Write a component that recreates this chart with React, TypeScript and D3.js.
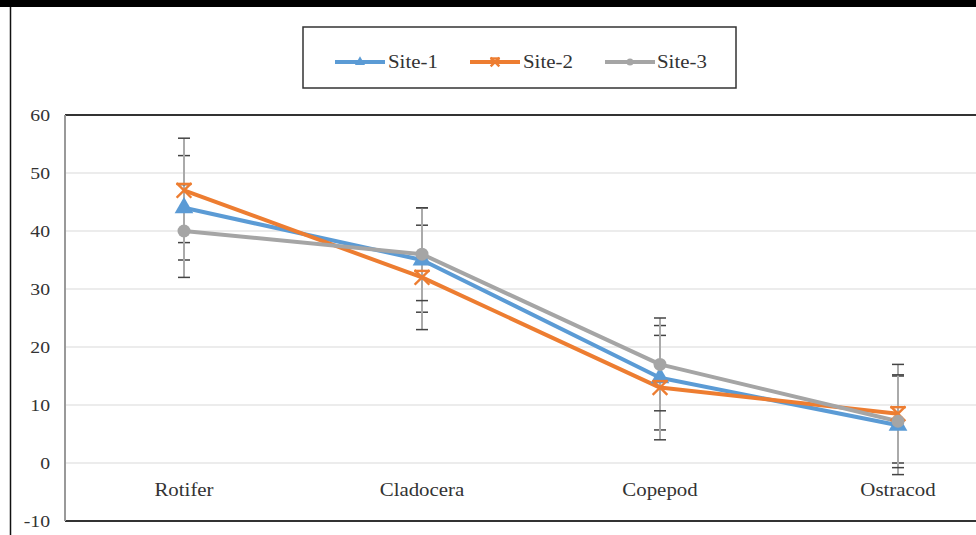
import * as d3 from 'd3'

// categories along the x axis
const CATEGORIES = ['Rotifer', 'Cladocera', 'Copepod', 'Ostracod']

// series values and error bar half-widths
const SITE1 = [44, 35, 14.7, 6.5]
const SITE1_ERR = [9, 9, 9, 8.5]
const SITE2 = [47, 32, 13, 8.5]
const SITE2_ERR = [9, 9, 9, 8.5]
const SITE3 = [40, 36, 17, 7.2]
const SITE3_ERR = [8, 8, 8, 8]

const Y_TICKS = [-10, 0, 10, 20, 30, 40, 50, 60]

const SERIES = [
  { name: 'Site-1', values: SITE1, err: SITE1_ERR, color: '#5b9bd5', marker: 'triangle' },
  { name: 'Site-2', values: SITE2, err: SITE2_ERR, color: '#ed7d31', marker: 'star' },
  { name: 'Site-3', values: SITE3, err: SITE3_ERR, color: '#a5a5a5', marker: 'circle' },
]

const W = 976
const H = 535
const FONT = 'Liberation Serif, DejaVu Serif, Times New Roman, serif'
const STRETCH = 1.16 // the source text is a bit wider than it is tall

function Label({ x, y, anchor, size, children }: { x: number; y: number; anchor: string; size: number; children: any }) {
  return (
    <text
      transform={`translate(${x},${y}) scale(${STRETCH},1)`}
      dy="0.35em"
      textAnchor={anchor}
      fontFamily={FONT}
      fontSize={size}
      fill="#333"
    >
      {children}
    </text>
  )
}

function Marker({ type, x, y, color, size }: { type: string; x: number; y: number; color: string; size: number }) {
  if (type === 'triangle') {
    const p = d3.symbol().type(d3.symbolTriangle).size(size * size * 0.9)()
    return <path d={p || ''} transform={`translate(${x},${y})`} fill={color} />
  }
  if (type === 'circle') {
    return <circle cx={x} cy={y} r={size / 2} fill={color} />
  }
  const s = size / 2
  return (
    <g stroke={color} strokeWidth={2.4} strokeLinecap="square">
      <line x1={x - s} y1={y - s} x2={x + s} y2={y + s} />
      <line x1={x - s} y1={y + s} x2={x + s} y2={y - s} />
      <line x1={x - s} y1={y - s} x2={x + s} y2={y - s} />
    </g>
  )
}

export default function App() {
  const x = d3.scalePoint<string>().domain(CATEGORIES).range([184, 898])
  const y = d3.scaleLinear().domain([-10, 60]).range([521, 115])
  const plotLeft = 65

  const line = d3
    .line<number>()
    .x((_, i) => x(CATEGORIES[i]) as number)
    .y((d) => y(d))

  const legendItems = [
    { lx: 335, tx: 388 },
    { lx: 470, tx: 523 },
    { lx: 605, tx: 657 },
  ]

  return (
    <div style={{ position: 'absolute', left: 0, top: 0 }}>
      <svg width={W} height={H} style={{ display: 'block', background: '#fff' }}>
        {/* frame */}
        <rect x={0} y={0} width={W} height={7} fill="#000" />
        <line x1={10.5} y1={7} x2={10.5} y2={H} stroke="#111" strokeWidth={1.5} />

        {/* legend */}
        <rect x={303} y={27} width={433} height={61} fill="#fff" stroke="#333" strokeWidth={1.5} />
        {SERIES.map((s, i) => {
          const it = legendItems[i]
          return (
            <g key={s.name}>
              <line x1={it.lx} y1={62} x2={it.lx + 50} y2={62} stroke={s.color} strokeWidth={4} />
              <Marker type={s.marker} x={it.lx + 25} y={62} color={s.color} size={7} />
              <Label x={it.tx} y={62} anchor="start" size={18}>
                {s.name}
              </Label>
            </g>
          )
        })}

        {/* gridlines */}
        {Y_TICKS.filter((t) => t > -10 && t < 60).map((t) => (
          <line key={t} x1={plotLeft} x2={W} y1={y(t)} y2={y(t)} stroke="#d9d9d9" strokeWidth={1} />
        ))}
        <line x1={plotLeft} x2={W} y1={y(60)} y2={y(60)} stroke="#333" strokeWidth={2} />
        <line x1={plotLeft} x2={W} y1={y(-10)} y2={y(-10)} stroke="#333" strokeWidth={2} />
        <line x1={plotLeft} x2={plotLeft} y1={y(60)} y2={y(-10)} stroke="#999" strokeWidth={2} />

        {/* y tick labels */}
        {Y_TICKS.map((t) => (
          <Label key={t} x={50} y={y(t)} anchor="end" size={17}>
            {t}
          </Label>
        ))}

        {/* category labels */}
        {CATEGORIES.map((c) => (
          <Label key={c} x={x(c) as number} y={490} anchor="middle" size={18}>
            {c}
          </Label>
        ))}

        {/* error bars */}
        {SERIES.map((s) =>
          s.values.map((v, i) => {
            const cx = x(CATEGORIES[i]) as number
            const hi = y(v + s.err[i])
            const lo = y(v - s.err[i])
            return (
              <g key={s.name + i}>
                <line x1={cx} x2={cx} y1={hi} y2={lo} stroke="#aaa" strokeWidth={2} />
                <line x1={cx - 6} x2={cx + 6} y1={hi} y2={hi} stroke="#444" strokeWidth={1.5} />
                <line x1={cx - 6} x2={cx + 6} y1={lo} y2={lo} stroke="#444" strokeWidth={1.5} />
              </g>
            )
          })
        )}

        {/* lines */}
        {SERIES.map((s) => (
          <path key={s.name} d={line(s.values) || ''} fill="none" stroke={s.color} strokeWidth={4} strokeLinejoin="round" />
        ))}

        {/* markers */}
        {SERIES.map((s) =>
          s.values.map((v, i) => (
            <Marker key={s.name + i} type={s.marker} x={x(CATEGORIES[i]) as number} y={y(v)} color={s.color} size={13} />
          ))
        )}
      </svg>
    </div>
  )
}
